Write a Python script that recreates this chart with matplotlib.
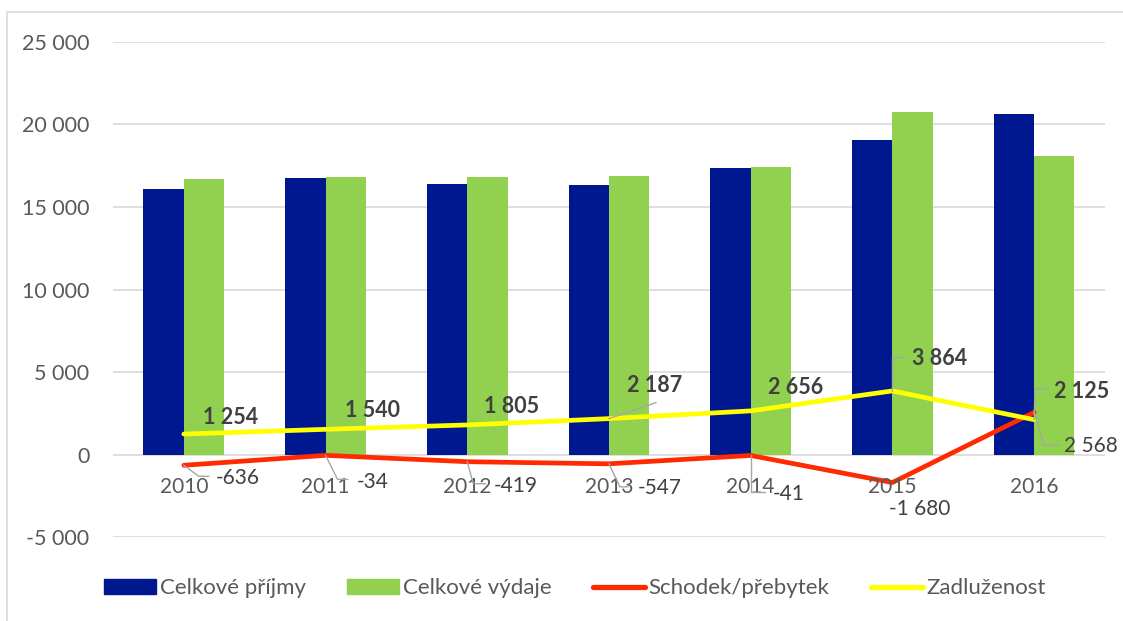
import matplotlib.pyplot as plt
import matplotlib.transforms as mtransforms
from matplotlib.lines import Line2D
from matplotlib.patches import Patch

plt.rcParams["font.family"] = ["Lato", "DejaVu Sans"]

years = ["2010", "2011", "2012", "2013", "2014", "2015", "2016"]
prijmy = [16060, 16765, 16360, 16320, 17370, 19060, 20630]
vydaje = [16660, 16785, 16785, 16860, 17410, 20730, 18050]
schodek = [-636, -34, -419, -547, -41, -1680, 2568]
zadluzenost = [1254, 1540, 1805, 2187, 2656, 3864, 2125]

# label offsets from the point, in pixels (right, down)
zad_offsets = [(47, -17), (47, -19), (44, -18), (46, -33), (45, -23), (47, -32), (48, -28)]
sch_offsets = [(54, 13), (47, 27), (49, 24), (51, 24), (38, 39), (27, 26), (57, 34)]

# leader lines, pixel paths from the point
zad_leaders = {3: [(0, 0), (47, -16)], 5: [(0, 0), (0, -34), (11, -34)], 6: [(0, 0), (1, -31), (13, -31)]}
sch_leaders = {
    0: [(0, 0), (15, 11), (25, 11)],
    1: [(0, 0), (12, 24), (22, 24)],
    2: [(0, 0), (6, 22), (18, 22)],
    3: [(0, 0), (11, 23), (19, 23)],
    4: [(0, 0), (0, 37), (14, 37)],
    6: [(0, 0), (10, 33), (25, 33)],
}

BLUE = "#00188F"
GREEN = "#92D050"
RED = "#FF2A00"
YELLOW = "#FFFF00"
LABEL = "#404040"
TICK = "#595959"


def fmt(v):
    return f"{v:,}".replace(",", " ")


def leader(fig, ax, x, y, path):
    px, py = ax.transData.transform((x, y))
    xs = [px + dx for dx, dy in path]
    ys = [py - dy for dx, dy in path]
    fig.add_artist(Line2D(xs, ys, transform=mtransforms.IdentityTransform(),
                          color="#A6A6A6", linewidth=1.0, zorder=6))


fig = plt.figure(figsize=(11.23, 6.21), dpi=100)
ax = fig.add_axes([0.1006, 0.1346, 0.8833, 0.7984])

x = list(range(len(years)))
w = 0.285
ax.bar([i - w / 2 for i in x], prijmy, width=w, color=BLUE, zorder=2)
ax.bar([i + w / 2 for i in x], vydaje, width=w, color=GREEN, zorder=2)
ax.plot(x, schodek, color=RED, linewidth=3.4, solid_capstyle="round", zorder=3)
ax.plot(x, zadluzenost, color=YELLOW, linewidth=3.4, solid_capstyle="round", zorder=4)

ax.set_xlim(-0.5, len(years) - 0.5)
ax.set_ylim(-5000, 25000)
ax.set_yticks(range(-5000, 25001, 5000))
ax.set_yticklabels([fmt(v) for v in range(-5000, 25001, 5000)])
ax.set_xticks([])
ax.tick_params(axis="y", length=0, pad=17, labelsize=15.5, labelcolor=TICK)
ax.grid(axis="y", color="#D9D9D9", linewidth=1.2, zorder=0)
ax.set_axisbelow(True)
for s in ax.spines.values():
    s.set_visible(False)

for i, yr in enumerate(years):
    ax.annotate(yr, (i, 0), xytext=(0, -32), textcoords="offset pixels",
                ha="center", va="center", fontsize=15, color=TICK, zorder=5)

for i, v in enumerate(zadluzenost):
    dx, dy = zad_offsets[i]
    ax.annotate(fmt(v), (i, v), xytext=(dx, -dy), textcoords="offset pixels",
                ha="center", va="center", fontsize=15.5, fontweight="bold",
                color=LABEL, zorder=7)
for i, v in enumerate(schodek):
    dx, dy = sch_offsets[i]
    ax.annotate(fmt(v), (i, v), xytext=(dx, -dy), textcoords="offset pixels",
                ha="center", va="center", fontsize=15, color=LABEL, zorder=7)

for i, path in zad_leaders.items():
    leader(fig, ax, i, zadluzenost[i], path)
for i, path in sch_leaders.items():
    leader(fig, ax, i, schodek[i], path)

handles = [
    Patch(color=BLUE, label="Celkové příjmy"),
    Patch(color=GREEN, label="Celkové výdaje"),
    Line2D([], [], color=RED, linewidth=3.8, solid_capstyle="round", label="Schodek/přebytek"),
    Line2D([], [], color=YELLOW, linewidth=3.8, solid_capstyle="round", label="Zadluženost"),
]
fig.legend(handles=handles, loc="center", bbox_to_anchor=(0.512, 0.053), ncol=4,
           frameon=False, fontsize=16, handlelength=2.34, handleheight=0.63,
           handletextpad=0.18, columnspacing=1.85, labelcolor=TICK)

# chart border
fig.add_artist(Line2D([7 / 1123, 7 / 1123, 1.0], [0.0, 1 - 12 / 621, 1 - 12 / 621],
                      transform=fig.transFigure, color="#D9D9D9", linewidth=1.2))

fig.savefig("out.png", dpi=100)
